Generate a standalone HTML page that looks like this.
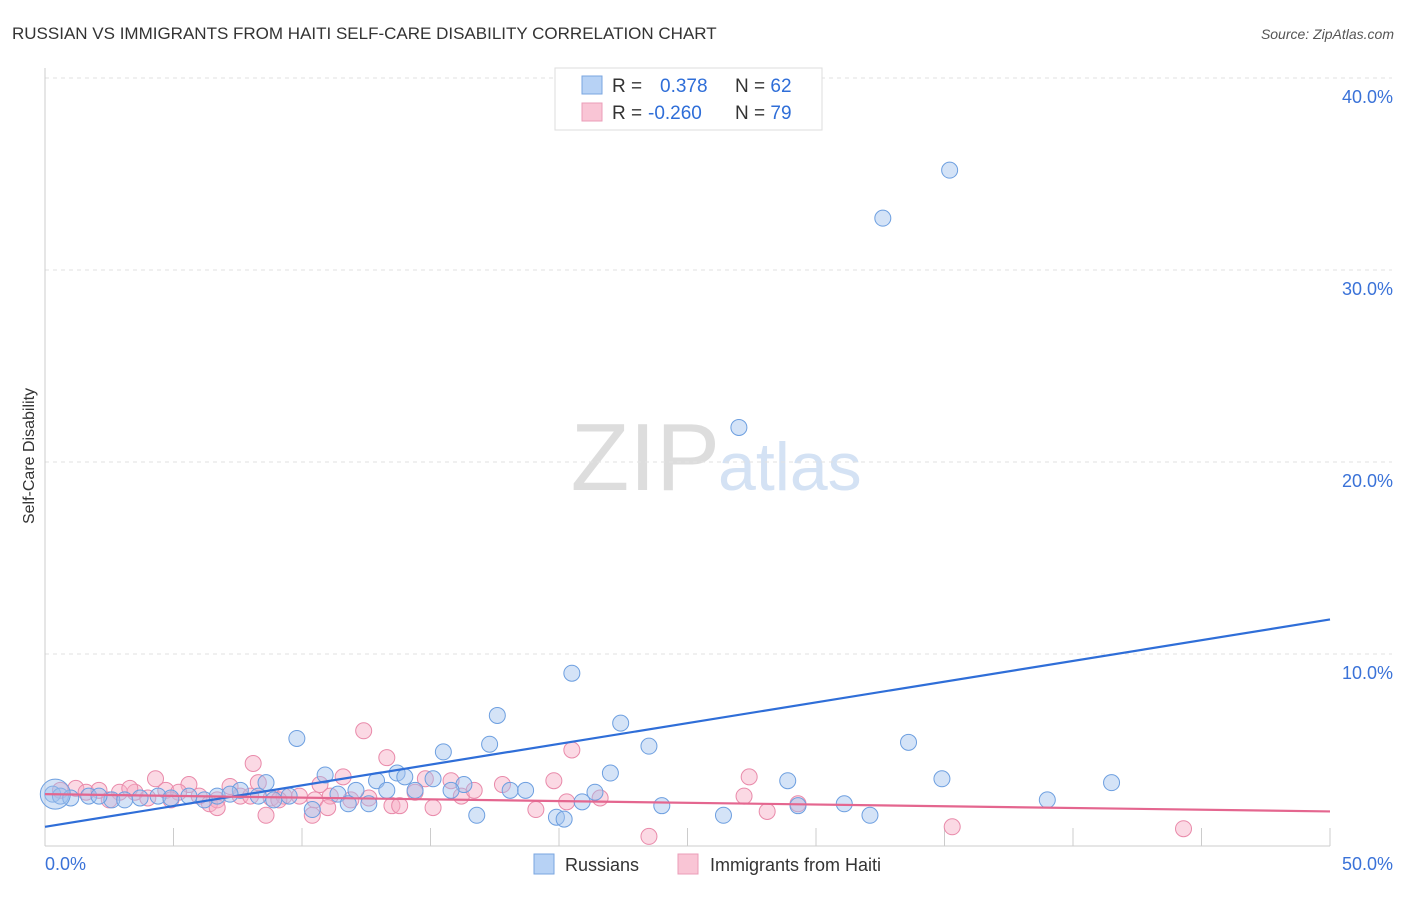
<!DOCTYPE html>
<html><head><meta charset="utf-8"><style>
body{margin:0;background:#fff;font-family:"Liberation Sans",sans-serif}
svg text{font-family:"Liberation Sans",sans-serif}
</style></head><body>
<svg width="1406" height="892" id="c">
<text x="12" y="39" font-size="17" fill="#333">RUSSIAN VS IMMIGRANTS FROM HAITI SELF-CARE DISABILITY CORRELATION CHART</text>
<text x="1394" y="39" font-size="14" fill="#555" text-anchor="end" font-style="italic">Source: ZipAtlas.com</text>
<text x="34" y="456" font-size="16" fill="#333" text-anchor="middle" transform="rotate(-90 34 456)">Self-Care Disability</text>
<text x="720" y="490" font-size="96" fill="#ddd" text-anchor="end" font-family="Liberation Serif">ZIP</text>
<text x="718" y="490" font-size="68" fill="#d4e2f4">atlas</text>
<g id="grid"></g><g id="pts"></g><g id="trend"></g>
<g>
<rect x="555" y="68" width="267" height="62" fill="#fff" stroke="#ddd"/>
<rect x="582" y="76" width="20" height="18" fill="#b7d2f5" stroke="#7aa6e0"/>
<rect x="582" y="103" width="20" height="18" fill="#f9c5d5" stroke="#eb9db8"/>
<text x="612" y="92" font-size="19" fill="#333">R = <tspan fill="#2f6ed8" x="660">0.378</tspan><tspan x="735">N = </tspan><tspan fill="#2f6ed8">62</tspan></text>
<text x="612" y="119" font-size="19" fill="#333">R = <tspan fill="#2f6ed8" x="648">-0.260</tspan><tspan x="735">N = </tspan><tspan fill="#2f6ed8">79</tspan></text>
</g>
<g>
<rect x="534" y="854" width="20" height="20" fill="#b7d2f5" stroke="#7aa6e0"/>
<text x="565" y="871" font-size="18" fill="#333">Russians</text>
<rect x="678" y="854" width="20" height="20" fill="#f9c5d5" stroke="#eb9db8"/>
<text x="710" y="871" font-size="18" fill="#333">Immigrants from Haiti</text>
</g>
</svg>
<script>
const yTicks=[10,20,30,40];
const xTickLabels=["0.0%","50.0%"];
const blueX=[35.2,32.6,27.0,20.5,22.4,17.6,9.8,33.6,23.5,15.5,17.3,10.9,12.9,13.7,14.0,15.1,22.0,28.9,34.9,41.5,8.6,16.3,18.1,18.7,21.4,15.8,11.4,12.1,39.0,24.0,29.3,31.1,20.9,16.8,19.9,20.2,26.4,32.1,0.3,0.6,1.0,1.7,2.6,3.1,3.7,4.4,4.9,5.6,6.2,6.7,7.6,8.3,8.9,9.5,10.4,11.8,12.6,13.3,14.4,7.2,2.1,0.4];
const blueY=[35.2,32.7,21.8,9.0,6.4,6.8,5.6,5.4,5.2,4.9,5.3,3.7,3.4,3.8,3.6,3.5,3.8,3.4,3.5,3.3,3.3,3.2,2.9,2.9,2.8,2.9,2.7,2.9,2.4,2.1,2.1,2.2,2.3,1.6,1.5,1.4,1.6,1.6,2.7,2.6,2.5,2.6,2.4,2.4,2.5,2.6,2.5,2.6,2.4,2.6,2.9,2.6,2.4,2.6,1.9,2.2,2.2,2.9,2.9,2.7,2.6,2.7];
const pinkX=[12.4,13.3,20.5,8.1,27.4,19.8,17.8,15.8,14.8,11.6,8.3,4.3,5.6,7.2,10.7,0.6,1.2,1.6,2.1,2.9,3.5,4.0,4.7,5.2,6.0,6.4,6.7,7.6,8.8,9.3,9.9,10.5,11.1,11.9,12.6,13.5,13.8,14.4,15.1,16.2,16.7,19.1,20.3,21.6,27.2,28.1,29.3,8.6,10.4,11.0,35.3,44.3,23.5,6.7,2.5,3.3,4.9,8.0,9.1];
const pinkY=[6.0,4.6,5.0,4.3,3.6,3.4,3.2,3.4,3.5,3.6,3.3,3.5,3.2,3.1,3.2,2.9,3.0,2.8,2.9,2.8,2.8,2.5,2.9,2.8,2.6,2.2,2.4,2.6,2.5,2.6,2.6,2.4,2.6,2.4,2.5,2.1,2.1,2.8,2.0,2.6,2.9,1.9,2.3,2.5,2.6,1.8,2.2,1.6,1.6,2.0,1.0,0.9,0.5,2.0,2.4,3.0,2.4,2.6,2.4];
const blueTrend=[1.0,11.8];
const pinkTrend=[2.7,1.8];
const X=v=>45+v*25.7, Y=v=>846-v*19.2;
const ns="http://www.w3.org/2000/svg";
function mk(t,a,p){const e=document.createElementNS(ns,t);for(const k in a)e.setAttribute(k,a[k]);document.getElementById(p).appendChild(e);return e;}
yTicks.forEach(t=>{
 const l=mk("line",{x1:45,x2:1392,y1:Y(t),y2:Y(t),stroke:"#e2e2e2","stroke-dasharray":"4,4"},"grid");
 
 
 const tx=mk("text",{x:1393,y:Y(t)+25,"font-size":18,fill:"#3a72d8","text-anchor":"end"},"grid");
 tx.textContent=t.toFixed(1)+"%";
 
 
});
const ax=mk("line",{x1:45,x2:45,y1:68,y2:846,stroke:"#ccc"},"grid");


const bx=mk("line",{x1:45,x2:1330,y1:846,y2:846,stroke:"#ccc"},"grid");


for(let i=0;i<=10;i++){const t=mk("line",{x1:X(i*5),x2:X(i*5),y1:828,y2:846,stroke:"#ccc"},"grid");
 
 }
[[0,"start",45],[50,"end",1393]].forEach((d,i)=>{const t=mk("text",{x:d[2],y:870,"font-size":18,fill:"#3a72d8","text-anchor":d[1]},"grid");t.textContent=xTickLabels[i];
 
 });
pinkX.forEach((v,i)=>{const c=mk("circle",{cx:X(v),cy:Y(pinkY[i]),r:8,fill:"rgba(246,170,196,0.45)",stroke:"#e98aaa","stroke-width":1},"pts");
 
 });
blueX.forEach((v,i)=>{const c=mk("circle",{cx:X(v),cy:Y(blueY[i]),r:i==blueX.length-1?15:8,fill:"rgba(160,194,238,0.45)",stroke:"#6d9fe0","stroke-width":1},"pts");
 
 });
const bl=mk("line",{x1:X(0),x2:X(50),y1:Y(blueTrend[0]),y2:Y(blueTrend[1]),stroke:"#2f6ed8","stroke-width":2.2},"trend");


const pl=mk("line",{x1:X(0),x2:X(50),y1:Y(pinkTrend[0]),y2:Y(pinkTrend[1]),stroke:"#e4668f","stroke-width":2.2},"trend");


</script>
</body></html>
